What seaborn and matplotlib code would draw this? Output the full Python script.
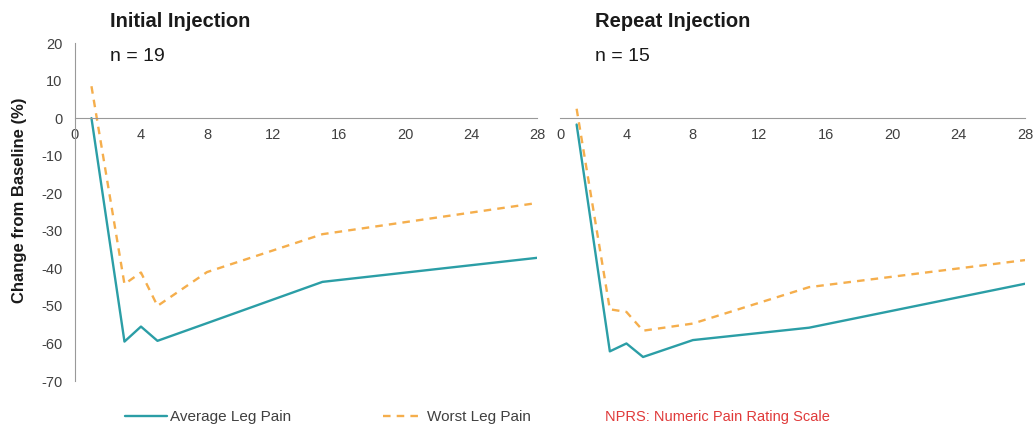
import pandas as pd
import matplotlib
matplotlib.use("Agg")
import matplotlib.pyplot as plt
import seaborn as sns

# days after injection
days = [1, 3, 4, 5, 8, 15, 28]

# change from baseline (%)
initial_avg = [0, -59.5, -55.5, -59.3, -54.6, -43.6, -37.2]
initial_worst = [8.5, -44.2, -41.1, -50.0, -41.0, -30.9, -22.6]
repeat_avg = [-1.7, -62.1, -60.0, -63.6, -59.1, -55.8, -44.1]
repeat_worst = [2.5, -50.9, -51.6, -56.6, -54.7, -45.0, -37.8]

series_names = ["Average Leg Pain", "Worst Leg Pain"]
panel_titles = ["Initial Injection", "Repeat Injection"]
panel_n = ["n = 19", "n = 15"]

x_ticks = [0, 4, 8, 12, 16, 20, 24, 28]
y_ticks = [20, 10, 0, -10, -20, -30, -40, -50, -60, -70]

TEAL = "#2b9ea6"
ORANGE = "#f5ae4c"
TICK_COLOR = "#404040"


def make_frame(avg, worst):
    return pd.DataFrame({
        "day": days * 2,
        "change": avg + worst,
        "series": [series_names[0]] * len(days) + [series_names[1]] * len(days),
    })


sns.set_style("white")
plt.rcParams["font.family"] = ["Liberation Sans", "DejaVu Sans"]
plt.rcParams["axes.unicode_minus"] = False

fig = plt.figure(figsize=(10.34, 4.32), dpi=100)
ax_left = fig.add_axes([0.0725, 0.118, 0.4468, 0.7824])
ax_right = fig.add_axes([0.5416, 0.118, 0.4497, 0.7824])

frames = [make_frame(initial_avg, initial_worst), make_frame(repeat_avg, repeat_worst)]

for i, (ax, df) in enumerate(zip([ax_left, ax_right], frames)):
    sns.lineplot(
        data=df, x="day", y="change", hue="series", style="series",
        palette={series_names[0]: TEAL, series_names[1]: ORANGE},
        dashes={series_names[0]: "", series_names[1]: (3.2, 2.6)},
        linewidth=1.7, ax=ax, legend=(i == 0),
    )
    ax.set_xlim(0, 28)
    ax.set_ylim(-70, 20)
    ax.set_xticks(x_ticks)
    ax.set_yticks(y_ticks)
    ax.set_xlabel("")
    ax.set_ylabel("")
    ax.spines["top"].set_visible(False)
    ax.spines["right"].set_visible(False)
    ax.spines["bottom"].set_position(("data", 0))
    ax.spines["bottom"].set_color("#999999")
    ax.spines["left"].set_color("#999999")
    ax.tick_params(axis="x", direction="out", length=4, width=0.8, color="#999999",
                   labelsize=10.5, labelcolor=TICK_COLOR, pad=3)
    ax.tick_params(axis="y", direction="out", length=4, width=0.8, color="#999999",
                   labelsize=10.5, labelcolor=TICK_COLOR, pad=5)
    ax.text(0.076, 1.065, panel_titles[i], transform=ax.transAxes,
            fontsize=14.5, fontweight="bold", color="#1a1a1a", va="center")
    ax.text(0.076, 0.96, panel_n[i], transform=ax.transAxes,
            fontsize=14, color="#1a1a1a", va="center")

ax_right.spines["left"].set_visible(False)
ax_right.tick_params(axis="y", left=False, labelleft=False)

ax_left.set_ylabel("Change from Baseline (%)", fontsize=12, fontweight="bold",
                   color="#1a1a1a")
ax_left.yaxis.set_label_coords(-0.103, 0.535)

handles, labels = ax_left.get_legend_handles_labels()
ax_left.get_legend().remove()
fig.legend(handles, labels, loc="center left", bbox_to_anchor=(0.108, 0.035),
           ncol=2, frameon=False, fontsize=11, handlelength=2.7,
           handletextpad=0.2, columnspacing=6.0, labelcolor=TICK_COLOR)

fig.text(0.585, 0.035, "NPRS: Numeric Pain Rating Scale", color="#e03a3a",
         fontsize=10.5, va="center")

fig.savefig("out.png", dpi=100)
